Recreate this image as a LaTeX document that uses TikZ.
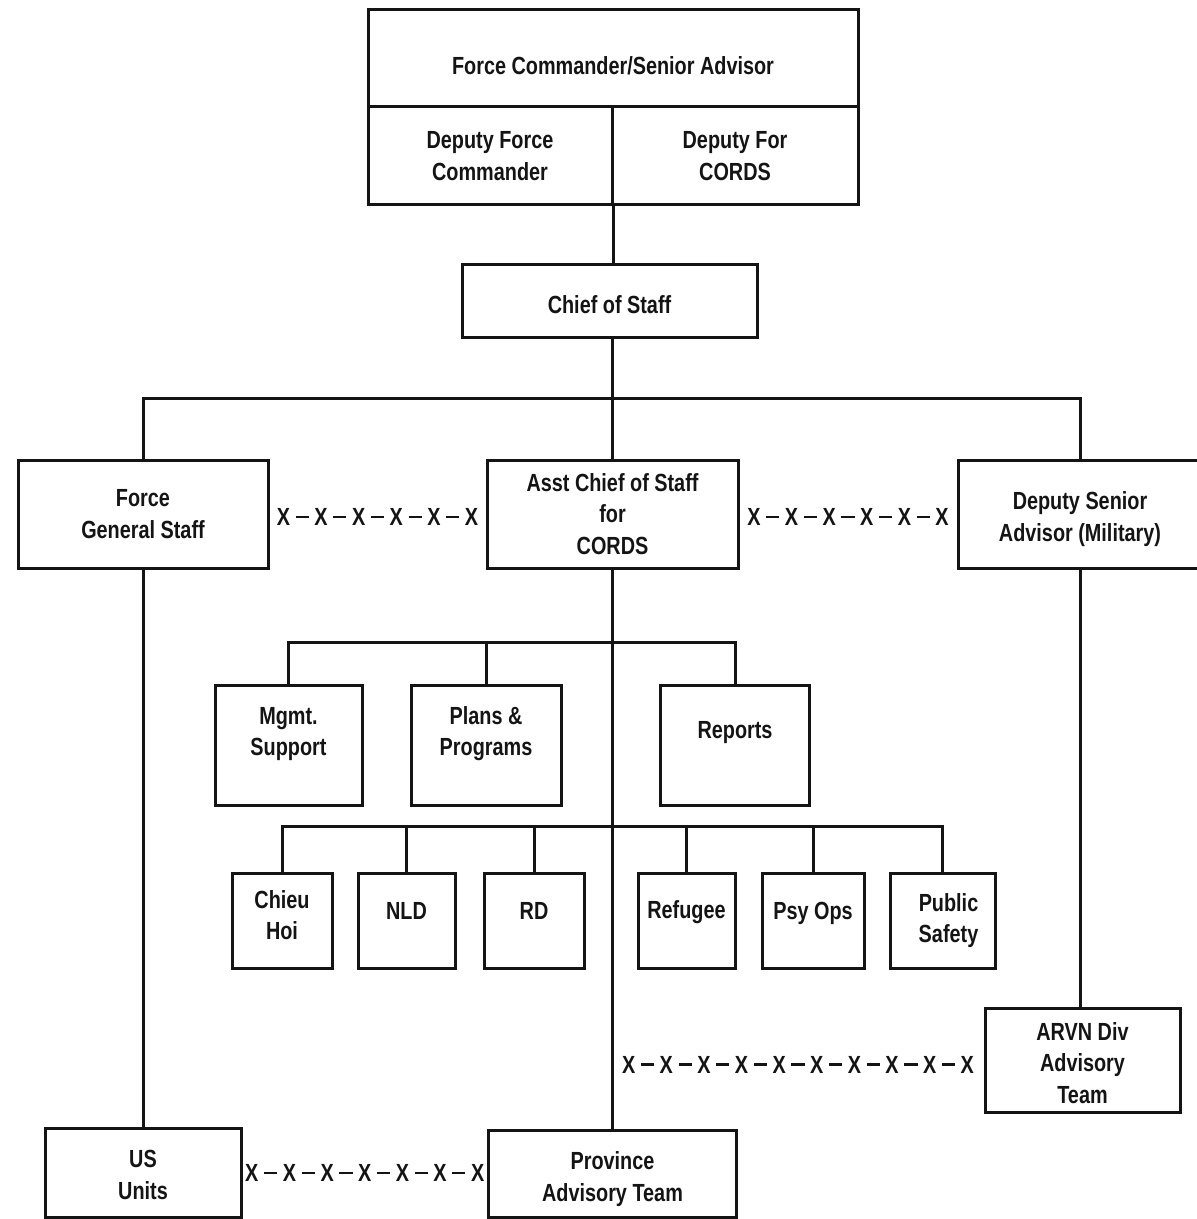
\documentclass[tikz,border=0pt]{standalone}
\usepackage{fontspec}
\setmainfont{Liberation Sans}[FakeStretch=0.8]
\definecolor{ink}{HTML}{141414}
\tikzset{org/.style={draw=ink, line width=1.5pt, inner sep=0pt},
  tag/.style={align=center, inner sep=0pt, text=ink, font=\fontsize{12.4}{15.6}\selectfont\bfseries},
  ln/.style={draw=ink, line width=1.5pt, line join=miter},
  xchain/.style={inner sep=0pt, text=ink, font=\fontsize{12.4}{16}\selectfont\bfseries}}
\newcommand{\xlink}[1]{X\foreach \i in {2,...,#1}{\kern2.8pt\rule[3.7pt]{6.6pt}{1.2pt}\kern2.8pt X}}

\begin{document}
\begin{tikzpicture}[x=0.5pt, y=-0.5pt]
  \useasboundingbox (0,0) rectangle (1196,1219);
  \node[org, minimum width=245pt, minimum height=48.5pt, label={[tag, yshift=-3.75pt]center:Force Commander/Senior Advisor}] (fcsa) at (613,58.5) {};
  \node[org, minimum width=122pt, minimum height=49pt, label={[tag]center:{Deputy Force\\Commander}}] (dfc) at (490,156) {};
  \node[org, minimum width=123pt, minimum height=49pt, label={[tag]center:{Deputy For\\CORDS}}] (dcords) at (735,156) {};
  \node[org, minimum width=147.5pt, minimum height=36.5pt, label={[tag, yshift=-1.5pt]center:Chief of Staff}] (cos) at (609.5,301.5) {};
  \node[org, minimum width=125pt, minimum height=54pt, label={[tag]center:{Force\\General Staff}}] (fgs) at (143,514) {};
  \node[org, minimum width=125.5pt, minimum height=54pt, label={[tag]center:{Asst Chief of Staff\\for\\CORDS}}] (acos) at (612.5,514) {};
  \node[org, minimum width=122pt, minimum height=54pt, label={[tag, yshift=-2.5pt]center:{Deputy Senior\\Advisor (Military)}}] (dsa) at (1080,514) {};
  \node[org, minimum width=73.5pt, minimum height=60pt, label={[tag, yshift=5.5pt]center:{Mgmt.\\Support}}] (mgmt) at (288.5,745) {};
  \node[org, minimum width=75pt, minimum height=60pt, label={[tag, yshift=5.5pt]center:{Plans \&\\Programs}}] (plans) at (486,745) {};
  \node[org, minimum width=74.5pt, minimum height=60pt, label={[tag, yshift=6pt]center:Reports}] (reports) at (735,745) {};
  \foreach \n/\x/\w/\dy/\t in {chieu/282/50/2.5/{Chieu\\Hoi}, nld/406.5/48.5/5/NLD, rd/534/50/5/RD, refugee/686.5/48.5/4/Refugee, psyops/813/51/3.5/Psy Ops, safety/942.5/52.5/0/{\hspace*{6pt}Public\\\hspace*{6pt}Safety}}
    \node[org, minimum width=\w pt, minimum height=47.5pt, label={[tag, yshift=\dy pt]center:\t}] (\n) at (\x,920.5) {};
  \node[org, minimum width=97.5pt, minimum height=52pt, label={[tag, yshift=-1.5pt]center:{ARVN Div\\Advisory\\Team}}] (arvn) at (1082.5,1060) {};
  \node[org, minimum width=98pt, minimum height=44.5pt, label={[tag, yshift=-1.25pt]center:{US\\Units}}] (usu) at (143,1172.5) {};
  \node[org, minimum width=124pt, minimum height=43.5pt, label={[tag, yshift=-2.75pt]center:{Province\\Advisory Team}}] (pat) at (612.5,1173.5) {};

  \coordinate (bus) at (612.5,398);
  \coordinate (sbar) at (612.5,642);
  \coordinate (dbar) at (612.5,826);
  \coordinate (pj) at (612.5,1063);
  \draw[ln] (dfc.south east) -- (dfc.south east |- cos.north);
  \draw[ln] (cos.south -| acos.north) -- (acos.north);
  \draw[ln] (fgs.north) |- (bus) -| (dsa.north);
  \draw[ln] (acos.south) -- (pat.north);
  \draw[ln] (mgmt.north) |- (sbar) -| (reports.north);
  \draw[ln] (plans.north) -- (plans.north |- sbar);
  \draw[ln] (chieu.north) |- (dbar) -| (safety.north);
  \foreach \n in {nld, rd, refugee, psyops}
    \draw[ln] (\n.north) -- (\n.north |- dbar);
  \draw[ln] (fgs.south) -- (usu.north);
  \draw[ln] (dsa.south) -- (dsa.south |- arvn.north);

  \path (fgs.east) -- node[xchain, yshift=-1.5pt] {\xlink{6}} (acos.west);
  \path (acos.east) -- node[xchain, yshift=-1.5pt] {\xlink{6}} (dsa.west);
  \path (pj) -- node[xchain, yshift=-1.5pt] {\xlink{10}} (arvn.west);
  \path (usu.east) -- node[xchain] {\xlink{7}} (pat.west);
\end{tikzpicture}
\end{document}
